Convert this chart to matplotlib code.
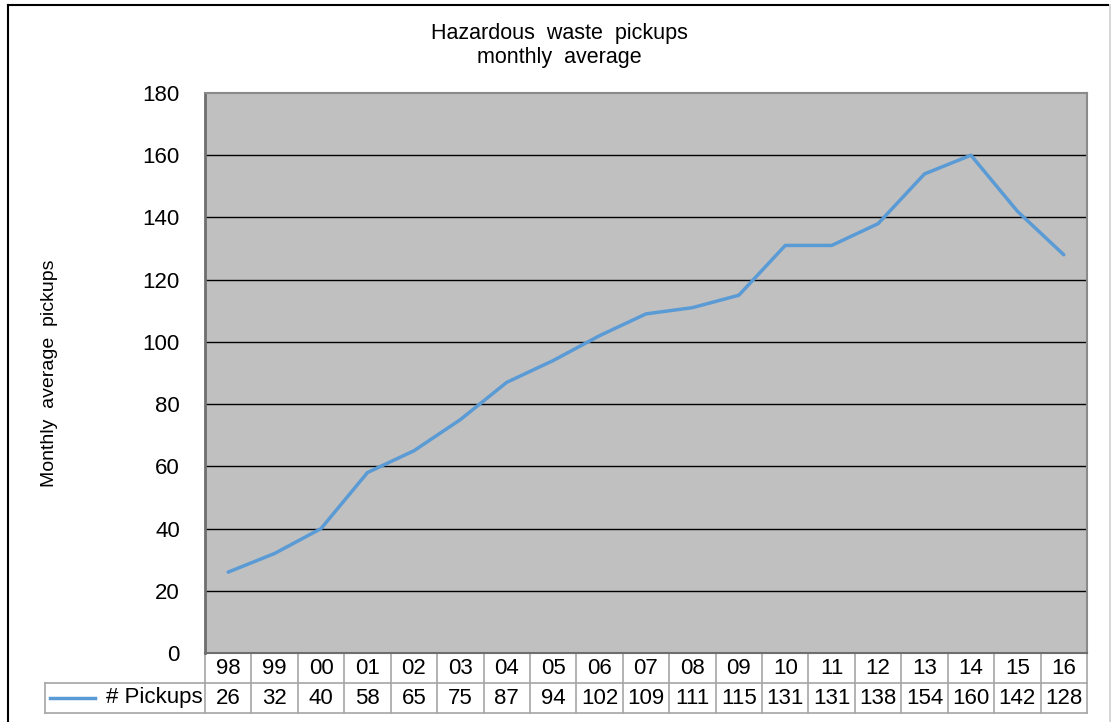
import matplotlib
matplotlib.use("Agg")
import matplotlib.pyplot as plt
from matplotlib.lines import Line2D
import matplotlib.transforms as mtransforms

years = ["98", "99", "00", "01", "02", "03", "04", "05", "06", "07",
         "08", "09", "10", "11", "12", "13", "14", "15", "16"]
pickups = [26, 32, 40, 58, 65, 75, 87, 94, 102, 109,
           111, 115, 131, 131, 138, 154, 160, 142, 128]
series_name = "# Pickups"
yticks = [0, 20, 40, 60, 80, 100, 120, 140, 160, 180]

plt.rcParams["font.family"] = ["Liberation Sans", "DejaVu Sans"]

W, H = 1115, 722
fig = plt.figure(figsize=(W / 100, H / 100), dpi=100)

# plot area in pixels
left, right, top, bottom = 205, 1087, 93, 653
ax = fig.add_axes([left / W, (H - bottom) / H, (right - left) / W, (bottom - top) / H])
ax.set_facecolor("#C0C0C0")

n = len(years)
xs = list(range(n))
ax.plot(xs, pickups, color="#5B9BD5", linewidth=2.5, solid_capstyle="round")

ax.set_xlim(-0.5, n - 0.5)
ax.set_ylim(0, 180)
ax.set_yticks(yticks)
ax.set_yticklabels([str(t) for t in yticks], fontsize=16)
ax.tick_params(axis="y", length=0, pad=18)
ax.set_xticks([])
for t in yticks[1:-1]:
    ax.axhline(t, color="black", linewidth=1.0, zorder=1)

ax.spines["left"].set_color("#6E6E6E")
ax.spines["left"].set_linewidth(2)
ax.spines["right"].set_color("#8A8A8A")
ax.spines["right"].set_linewidth(1.5)
ax.spines["top"].set_color("#8A8A8A")
ax.spines["top"].set_linewidth(1.5)
ax.spines["bottom"].set_color("#6E6E6E")
ax.spines["bottom"].set_linewidth(1.5)

ax.set_ylabel("Monthly  average  pickups", fontsize=14)
ax.yaxis.set_label_coords((58 - left) / (right - left), 0.5)

fig.text(559 / W, 1 - 33 / H, "Hazardous  waste  pickups", ha="center", va="center", fontsize=15.5)
fig.text(559 / W, 1 - 58 / H, "monthly  average", ha="center", va="center", fontsize=15.5)

# data table below the plot
row_h = 30 / (bottom - top)
trans = mtransforms.blended_transform_factory(ax.transData, ax.transAxes)
grid_c = "#A6A6A6"
lab_left = (45 - left) / (right - left) * n - 0.5  # label cell left edge in data units

def tline(xd, yd, **kw):
    ax.add_line(Line2D(xd, yd, transform=trans, color=grid_c, linewidth=1.2,
                       clip_on=False, **kw))

for i in range(n + 1):
    tline([i - 0.5, i - 0.5], [0, -2 * row_h])
tline([-0.5, n - 0.5], [-row_h, -row_h])
tline([lab_left, n - 0.5], [-2 * row_h, -2 * row_h])
tline([lab_left, -0.5], [-row_h, -row_h])
tline([lab_left, lab_left], [-row_h, -2 * row_h])

for i, (yr, v) in enumerate(zip(years, pickups)):
    ax.text(i, -0.5 * row_h, yr, transform=trans, ha="center", va="center", fontsize=16)
    ax.text(i, -1.5 * row_h, str(v), transform=trans, ha="center", va="center", fontsize=16)

leg_x0 = (50 - left) / (right - left) * n - 0.5
leg_x1 = (95 - left) / (right - left) * n - 0.5
ax.add_line(Line2D([leg_x0, leg_x1], [-1.5 * row_h, -1.5 * row_h], transform=trans,
                   color="#5B9BD5", linewidth=2.5, clip_on=False))
ax.text(-0.55, -1.5 * row_h, series_name, transform=trans, ha="right", va="center", fontsize=16)

# chart border
fig.add_artist(Line2D([8 / W, 1108 / W], [1 - 5 / H, 1 - 5 / H], transform=fig.transFigure, color="black", linewidth=1.5))
fig.add_artist(Line2D([8 / W, 8 / W], [0, 1 - 5 / H], transform=fig.transFigure, color="black", linewidth=1.5))
fig.add_artist(Line2D([1110 / W, 1110 / W], [0, 1 - 5 / H], transform=fig.transFigure, color="#D0D0D0", linewidth=1.2))

fig.savefig("out.png", dpi=100)
